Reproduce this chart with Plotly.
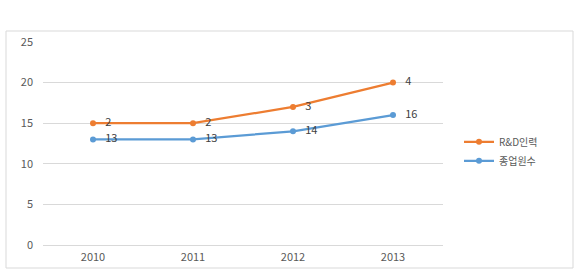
import plotly.graph_objects as go

years = ["2010", "2011", "2012", "2013"]
rd_values = [15, 15, 17, 20]
rd_labels = ["2", "2", "3", "4"]
emp_values = [13, 13, 14, 16]
emp_labels = ["13", "13", "14", "16"]

font_fam = "Noto Sans CJK KR, Noto Sans, sans-serif"

fig = go.Figure()
fig.add_trace(go.Scatter(
    x=years, y=rd_values, name="R&D인력", mode="lines+markers+text",
    text=rd_labels, texttemplate="   %{text}", textposition="middle right",
    textfont=dict(size=11, color="#404040"),
    line=dict(color="#ED7D31", width=2.25),
    marker=dict(color="#ED7D31", size=6),
))
fig.add_trace(go.Scatter(
    x=years, y=emp_values, name="종업원수", mode="lines+markers+text",
    text=emp_labels, texttemplate="   %{text}", textposition="middle right",
    textfont=dict(size=11, color="#404040"),
    line=dict(color="#5B9BD5", width=2.25),
    marker=dict(color="#5B9BD5", size=6),
))

fig.update_layout(
    width=586, height=275,
    margin=dict(l=43, r=143, t=42, b=30),
    paper_bgcolor="white", plot_bgcolor="white",
    font=dict(family=font_fam, size=11, color="#595959"),
    showlegend=True,
    legend=dict(x=1.04, y=0.58, xanchor="left", yanchor="top",
                font=dict(size=10, color="#595959"),
                bgcolor="rgba(0,0,0,0)", tracegroupgap=2),
    xaxis=dict(type="category", range=[-0.5, 3.5], showgrid=False,
               showline=False, ticks="", tickfont=dict(size=11, color="#595959"),
               ticklabelstandoff=4),
    yaxis=dict(range=[0, 25], dtick=5, showgrid=True, gridcolor="#D9D9D9",
               gridwidth=1, zeroline=True, zerolinecolor="#D9D9D9", zerolinewidth=1,
               showline=False, ticks="",
               tickfont=dict(size=11, color="#595959"), ticklabelstandoff=9),
    shapes=[dict(type="rect", xref="paper", yref="paper",
                 x0=-37/400, x1=530/400, y0=-23/203, y1=214/203,
                 line=dict(color="#D9D9D9", width=1), fillcolor="rgba(0,0,0,0)")],
)

fig.write_html("out.html")
